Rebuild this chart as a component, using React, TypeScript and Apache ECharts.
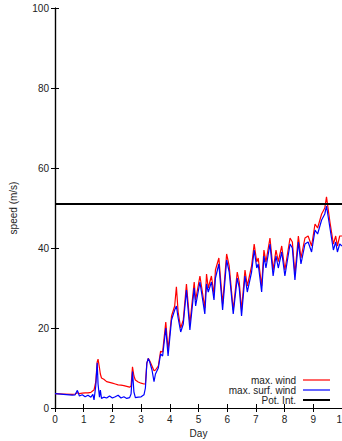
import React, { useEffect, useRef } from "react";
import * as echarts from "echarts";

const days = [0, 0.3, 0.6, 0.7, 0.78, 0.85, 0.95, 1.05, 1.15, 1.25, 1.32, 1.36, 1.42, 1.47, 1.5, 1.55, 1.58, 1.62, 1.7, 1.8, 1.9, 2.0, 2.1, 2.2, 2.3, 2.4, 2.5, 2.6, 2.65, 2.7, 2.75, 2.8, 2.9, 3.0, 3.1, 3.15, 3.2, 3.25, 3.3, 3.38, 3.45, 3.5, 3.6, 3.68, 3.75, 3.86, 3.94, 4.06, 4.17, 4.23, 4.29, 4.38, 4.47, 4.58, 4.7, 4.85, 4.9, 5.05, 5.22, 5.28, 5.34, 5.45, 5.54, 5.59, 5.71, 5.84, 5.98, 6.07, 6.21, 6.35, 6.42, 6.5, 6.62, 6.7, 6.85, 6.94, 7.03, 7.08, 7.2, 7.28, 7.35, 7.49, 7.6, 7.7, 7.78, 7.9, 8.01, 8.19, 8.27, 8.36, 8.48, 8.57, 8.71, 8.82, 8.94, 9.06, 9.15, 9.29, 9.4, 9.46, 9.58, 9.7, 9.78, 9.84, 9.92, 10];

const maxWind = [3.6, 3.5, 3.4, 3.5, 3.8, 3.6, 3.7, 3.8, 3.8, 3.9, 4.3, 4.5, 6.5, 11.5, 12.2, 10, 8.5, 7.5, 7.2, 6.6, 6.4, 6.2, 6.0, 5.8, 5.7, 5.6, 5.4, 5.2, 5.5, 10.3, 8, 7, 6.5, 6.2, 6.0, 6.0, 11.2, 12.4, 11.8, 10.5, 9.3, 9.5, 10.5, 14.2, 14, 21.5, 14.5, 23, 25.5, 30.3, 24, 20, 22, 31, 21, 31.5, 27, 33, 25, 33.5, 30, 33, 28.5, 34.5, 37.5, 26, 38.5, 35.5, 24.5, 34, 31.5, 24.5, 34.5, 30.5, 35.5, 41, 36.5, 37.5, 30.5, 39.5, 36.5, 42.5, 34.5, 39.5, 36.6, 40.5, 34.5, 42.5, 41.5, 33.5, 43, 37.5, 42.5, 43, 40.5, 46, 45, 48.5, 50, 52.8, 46.5, 41, 43, 40.5, 43, 43];

const maxSurfWind = [3.6, 3.4, 3.2, 3.3, 4.4, 3.0, 3.3, 2.8, 3.2, 2.7, 3.4, 2.0, 5.5, 11.3, 6, 2.7, 4.5, 2.4, 2.7, 2.5, 3.0, 2.5, 2.8, 3.2, 2.5, 2.8, 2.4, 2.6, 3.5, 9.1, 4, 2.6, 2.7, 2.8, 3.3, 5, 11.2, 12.4, 11.5, 9.5, 6.6, 8.5, 10, 13.5, 13, 20, 13, 22, 24.5, 25.5, 22.5, 19, 21, 29.5, 19.5, 30, 25.5, 31.5, 23.5, 31, 29, 31.5, 27, 32.5, 36, 24.5, 37, 34, 23.5, 32.5, 30, 23, 33, 29, 34, 39.5, 35, 36, 29, 38, 35, 41, 33, 38, 35, 39, 33, 41, 40, 32, 41.5, 36, 41, 41.5, 39, 44.5, 43.5, 47, 48.5, 50.5, 45, 39.5, 41.5, 39, 41, 40.5];

const potIntDays = [0, 10];
const potInt = [51, 51];

const xTicks = { min: 0, max: 10, interval: 1 };
const yTicks = { min: 0, max: 100, interval: 20 };

const legendNames = ["max. wind", "max. surf. wind", "Pot. Int."];
const colors = ["#ff0000", "#0000ff", "#000000"];

const FONT = "Liberation Sans, Arial, Helvetica, sans-serif";

export default function App() {
  const ref = useRef<HTMLDivElement>(null);
  useEffect(() => {
    if (!ref.current) return;
    const chart = echarts.init(ref.current, null, { renderer: "svg" });
    const pairs = (xs: number[], ys: number[]) => xs.map((x, i) => [x, ys[i]]);
    const tickStyle = { show: true, inside: true, length: 4, lineStyle: { color: "#000", width: 1 } };
    const lineX = { show: true, lineStyle: { color: "#000", width: 1.2 } };
    const legendY = [380, 390, 400];
    const graphic: any[] = [];
    legendNames.forEach((n, i) => {
      graphic.push({
        type: "text",
        x: 296,
        y: legendY[i],
        style: { text: n, fill: "#222", font: `10px ${FONT}`, align: "right", verticalAlign: "middle" },
      });
      graphic.push({
        type: "line",
        shape: { x1: 303, y1: legendY[i], x2: 330, y2: legendY[i] },
        style: { stroke: colors[i], lineWidth: i === 2 ? 2 : 1.2 },
      });
    });
    chart.setOption({
      animation: false,
      textStyle: { fontFamily: FONT },
      grid: { left: 55, right: 0, top: 8, bottom: 33, show: false, containLabel: false, outerBoundsMode: "none" },
      xAxis: [
        {
          type: "value",
          ...xTicks,
          name: "Day",
          nameLocation: "middle",
          nameGap: 19,
          nameTextStyle: { fontSize: 10, color: "#222", fontFamily: FONT },
          axisLine: lineX,
          axisTick: tickStyle,
          axisLabel: { fontSize: 10, color: "#222", margin: 6, fontFamily: FONT },
          splitLine: { show: false },
        },
        {
          type: "value",
          position: "top",
          ...xTicks,
          axisLine: lineX,
          axisTick: tickStyle,
          axisLabel: { show: false },
          splitLine: { show: false },
        },
      ],
      yAxis: [
        {
          type: "value",
          ...yTicks,
          name: "speed (m/s)",
          nameLocation: "middle",
          nameGap: 37,
          nameRotate: 90,
          nameTextStyle: { fontSize: 10, color: "#222", fontFamily: FONT },
          axisLine: lineX,
          axisTick: tickStyle,
          axisLabel: { fontSize: 10, color: "#222", margin: 6, fontFamily: FONT },
          splitLine: { show: false },
        },
        {
          type: "value",
          position: "right",
          ...yTicks,
          axisLine: lineX,
          axisTick: tickStyle,
          axisLabel: { show: false },
          splitLine: { show: false },
        },
      ],
      graphic,
      series: [
        {
          name: legendNames[0],
          type: "line",
          data: pairs(days, maxWind),
          showSymbol: false,
          symbol: "none",
          lineStyle: { color: colors[0], width: 1.2 },
          z: 2,
        },
        {
          name: legendNames[1],
          type: "line",
          data: pairs(days, maxSurfWind),
          showSymbol: false,
          symbol: "none",
          lineStyle: { color: colors[1], width: 1.2 },
          z: 3,
        },
        {
          name: legendNames[2],
          type: "line",
          data: pairs(potIntDays, potInt),
          showSymbol: false,
          symbol: "none",
          lineStyle: { color: colors[2], width: 2 },
          z: 4,
        },
      ],
    });
    return () => chart.dispose();
  }, []);
  return <div ref={ref} style={{ width: 342, height: 441, position: "absolute", left: 0, top: 0 }} />;
}
